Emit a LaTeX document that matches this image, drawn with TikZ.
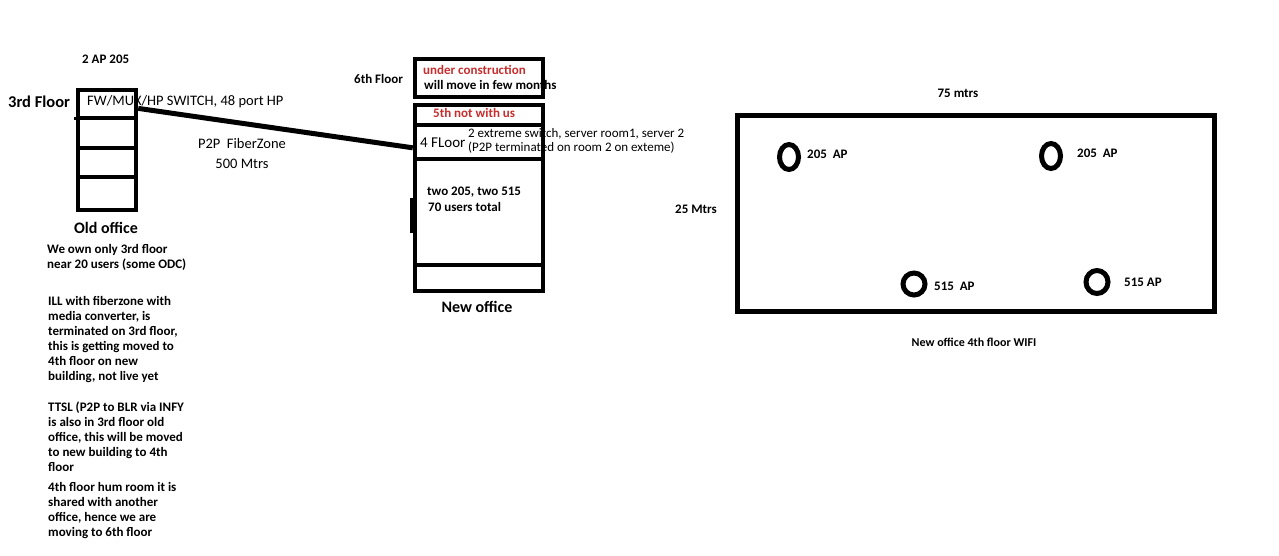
\documentclass[tikz,border=0pt]{standalone}
\usepackage{fontspec}
\setmainfont{Carlito}
\usetikzlibrary{shapes.geometric}
\definecolor{notered}{RGB}{200,45,45}

\begin{document}
\begin{tikzpicture}[x=1pt,y=-1pt,
wall/.style={rectangle, draw=black, line width=4.5pt, inner sep=0pt, minimum width=#1},
apnode/.style={ellipse, draw=black, line width=5pt, inner sep=0pt},
lbl/.style={anchor=base west, inner sep=0pt, font=\bfseries\fontsize{13}{15}\selectfont},
biglbl/.style={anchor=base, inner sep=0pt, font=\bfseries\fontsize{16}{18}\selectfont},
plain/.style={anchor=base west, inner sep=0pt, font=\fontsize{14.5}{17}\selectfont},
small/.style={anchor=base west, inner sep=0pt, font=\fontsize{13}{15}\selectfont},
note/.style={anchor=north west, inner sep=0pt, align=left, font=\bfseries\fontsize{13}{15}\selectfont},
]
\useasboundingbox (0,0) rectangle (1279,555);

%Old office texts
\node[lbl]      (apold)  at (82,63)   {2 AP 205};
\node[lbl, font=\bfseries\fontsize{16.5}{18}\selectfont] (floor3) at (8,107) {3rd Floor};
\node[plain]    (switch) at (87,105)  {FW/MUX/HP SWITCH, 48 port HP};
\node[plain, anchor=base] (fiber) at (242,148) {P2P\ \ FiberZone};
\node[plain, anchor=base] (dist)  at (242,168) {500 Mtrs};
\node[biglbl]   (oldname) at (106,233) {Old office};

\node[note] (note1) at (47,244) {We own only 3rd floor\\near 20 users (some ODC)};
\node[note] (note2) at (48,296) {ILL with fiberzone with\\media converter, is\\terminated on 3rd floor,\\this is getting moved to\\4th floor on new\\building, not live yet};
\node[note] (note3) at (48,402) {TTSL (P2P to BLR via INFY\\is also in 3rd floor old\\office, this will be moved\\to new building to 4th\\floor};
\node[note] (note4) at (48,482) {4th floor hum room it is\\shared with another\\office, hence we are\\moving to 6th floor};

%New office texts
\node[lbl]               (floor6) at (354,83)  {6th Floor};
\node[lbl, text=notered] (build)  at (423,74)  {under construction};
\node[lbl]               (move)   at (424,89)  {will move in few months};
\node[lbl, text=notered] (fifth)  at (433,117) {5th not with us};
\node[plain, font=\fontsize{15}{17}\selectfont] (floor4) at (420,147) {4 FLoor};
\node[small]    (extreme) at (468,137) {2 extreme switch, server room1, server 2};
\node[small]    (term)    at (468,151) {(P2P terminated on room 2 on exteme)};
\node[lbl]      (aps)     at (427,195) {two 205, two 515};
\node[lbl]      (users)   at (428,211) {70 users total};
\node[biglbl]   (newname) at (477,312) {New office};

%Wifi texts
\node[lbl, anchor=base] (len)  at (958,97)  {75 mtrs};
\node[lbl]              (wid)  at (675,213) {25 Mtrs};
\node[lbl] (aplbl1) at (807,158) {205\ \ AP};
\node[lbl] (aplbl2) at (1077,157) {205\ \ AP};
\node[lbl] (aplbl3) at (934,290) {515\ \ AP};
\node[lbl] (aplbl4) at (1124,286) {515 AP};
\node[lbl, anchor=base, font=\bfseries\fontsize{12}{14}\selectfont] (wifiname) at (974,346) {New office 4th floor WIFI};

%Old office floors
\node[wall=58, minimum height=28] (of3) at (107,104)   {};
\node[wall=58, minimum height=30] (of2) at (107,133)   {};
\node[wall=58, minimum height=29] (of1) at (107,162.5) {};
\node[wall=58, minimum height=33] (of0) at (107,193.5) {};
\draw[line width=3pt] (74,118) -- (80,118);

%New office floors
\node[wall=128, minimum height=38]  (nf6) at (479,78)  {};
\node[wall=128, minimum height=20]  (nf5) at (479,115) {};
\node[wall=128, minimum height=34]  (nf4) at (479,142) {};
\node[wall=128, minimum height=106] (nf3) at (479,212) {};
\node[wall=128, minimum height=26]  (nf1) at (479,278) {};
\draw[line width=3pt] (411.5,198) -- (411.5,233);

%Wifi floor
\node[wall=477, minimum height=196, line width=5pt] (wifi) at (975.5,213) {};
\node[apnode, minimum width=19, minimum height=25] (ap1) at (789,157)  {};
\node[apnode, minimum width=19, minimum height=25] (ap2) at (1051,156) {};
\node[apnode, minimum width=22, minimum height=22] (ap3) at (914,284)  {};
\node[apnode, minimum width=22, minimum height=23] (ap4) at (1097,282) {};

%Lines
\draw[line width=5pt] (of3.-8) -- (nf4.185);
\end{tikzpicture}
\end{document}
